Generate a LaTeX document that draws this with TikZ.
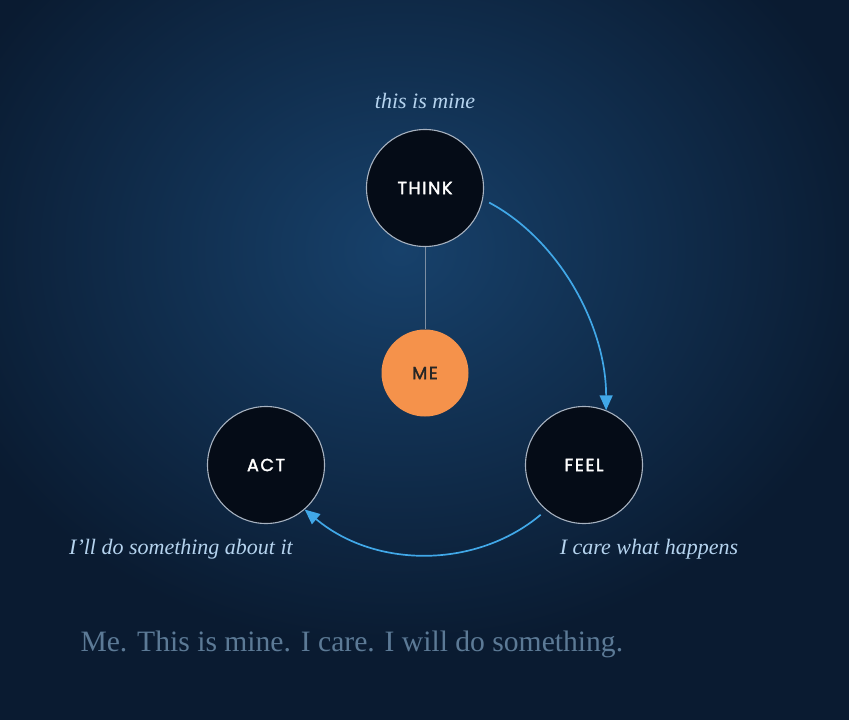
\documentclass[tikz,border=0pt]{standalone}
\usepackage{fontspec}
\usetikzlibrary{arrows.meta,positioning}
\setmainfont{Liberation Serif}
\newfontfamily\circfont{Poppins}[LetterSpace=9,FakeBold=2]
\definecolor{bgout}{HTML}{0A1B31}
\definecolor{bgin}{HTML}{17416B}
\definecolor{ringgray}{HTML}{A7B2C0}
\definecolor{discfill}{HTML}{050C17}
\definecolor{meorange}{HTML}{F5924B}
\definecolor{flowblue}{HTML}{41A8E8}
\definecolor{noteblue}{HTML}{B5D3EE}
\definecolor{captiongray}{HTML}{5C7A96}
\definecolor{spokegray}{HTML}{7D8EA2}
\begin{document}
\begin{tikzpicture}[x=1pt,y=-1pt,
	stage/.style={circle,draw=ringgray,line width=1.1pt,fill=discfill,minimum size=117pt,inner sep=0pt,text=white,font=\circfont\fontsize{17.5}{17.5}\selectfont},
	core/.style={circle,fill=meorange,minimum size=87pt,inner sep=0pt,text=black!85,font=\circfont\fontsize{17.5}{17.5}\selectfont},
	note/.style={text=noteblue,font=\itshape\fontsize{22}{26}\selectfont},
	flow/.style={draw=flowblue,line width=1.7pt,-{Triangle[length=15pt,width=13pt]},shorten <=7pt}]
		\useasboundingbox (0,0) rectangle (849,720);
		\clip (0,0) rectangle (849,720);
		\fill[bgout] (0,0) rectangle (849,720);
		\shade[inner color=bgin,outer color=bgout] (400,250) ellipse [x radius=480,y radius=400];
		% the four circles
		\node[core] (me) at (425,373) {ME};
		\node[stage] (think) at (425,188) {THINK};
		\node[stage] (feel) at (584,465) {FEEL};
		\node[stage] (act) at (266,465) {ACT};
		\node[note] (thinknote) at (425,101) {this is mine};
		\node[note] (actnote) at (181,549) {I’ll do something about it};
		\node[note] (feelnote) at (649,549) {I care what happens};
		\node[anchor=base west,text=captiongray,font=\fontsize{29.6}{34}\selectfont] (motto) at (77,651) {Me. This is mine. I care. I will do something.};
		% links
		\draw[spokegray,line width=0.9pt] (think) -- (me);
		\draw[flow] (think.-11) to[out=-28,in=90,looseness=0.89] (feel.68);
		\draw[flow] (feel.-130) to[out=-140,in=-40,looseness=0.97] (act.-49);
	\end{tikzpicture}
\end{document}
